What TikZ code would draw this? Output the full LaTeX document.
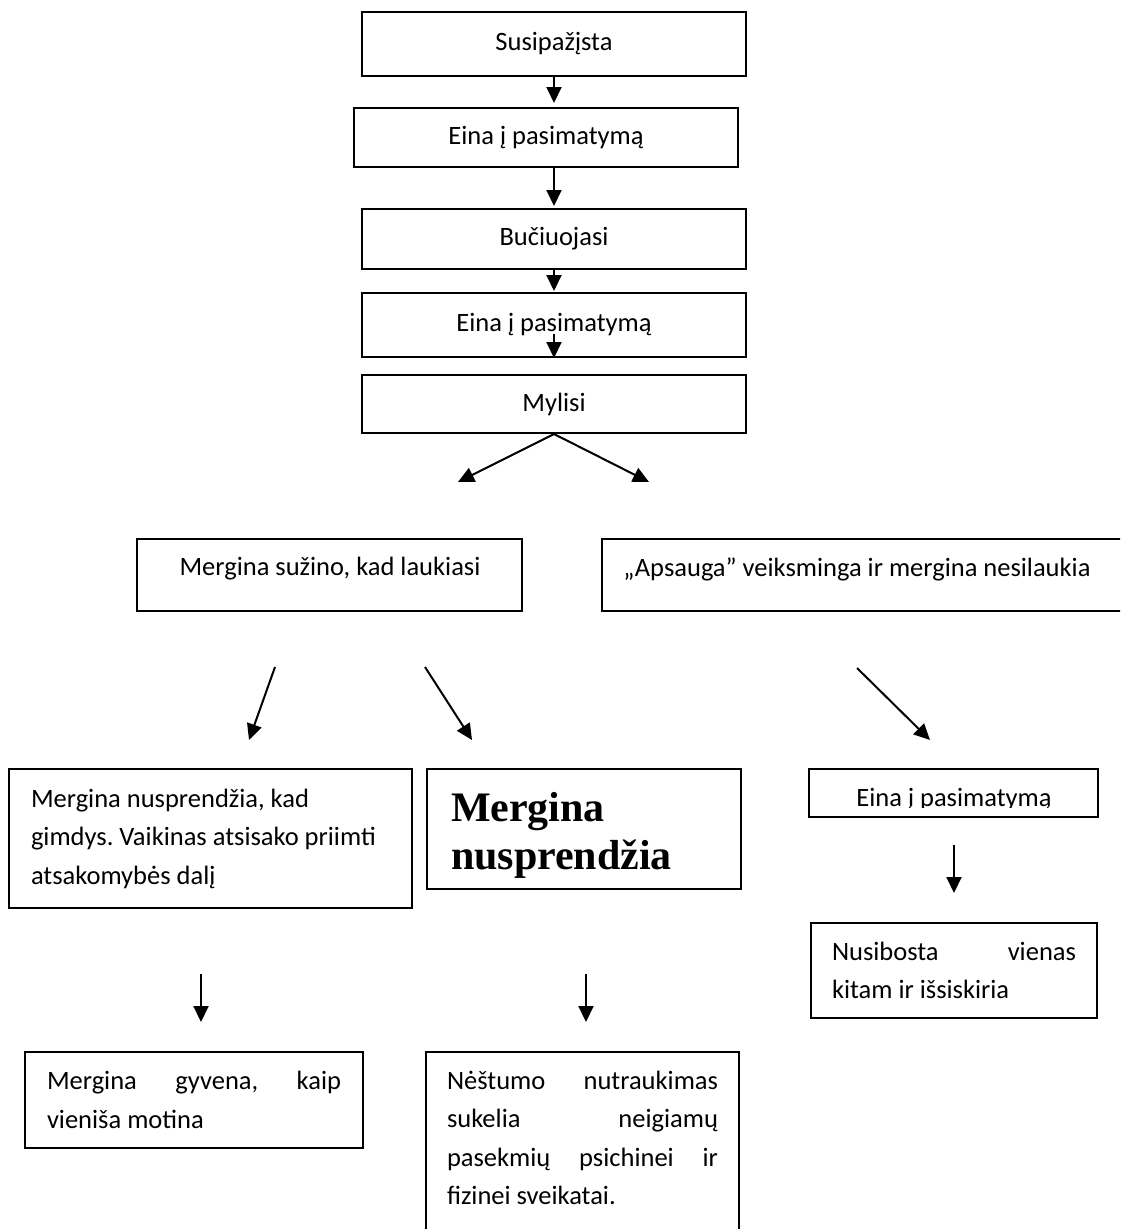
\documentclass[tikz,border=0pt]{standalone}
\usepackage{fontspec}
\setmainfont{Carlito}
\newfontfamily\tnr{Liberation Serif}
\usetikzlibrary{arrows.meta}
\frenchspacing
\tolerance=10000
\hyphenpenalty=10000

\tikzset{
  box/.style={draw, line width=2pt, inner sep=0pt},
  txt/.style={font=\fontsize{26.5}{38.5}\selectfont, inner sep=0pt},
}

\begin{document}
\begin{tikzpicture}[x=1pt,y=1pt,line width=2pt,>={Triangle[width=15pt,length=16pt]}]
\useasboundingbox (0,0) rectangle (1120,-1229);
\clip (0,0) rectangle (1120,-1229);

% upper chain
\node[box,txt,minimum width=384,minimum height=64] (susip) at (554,-44) {Susipažįsta};
\node[box,txt,minimum width=384,minimum height=59] (pasim1) at (546,-137.5) {Eina į pasimatymą};
\node[box,txt,minimum width=384,minimum height=60] (bucz) at (554,-239) {Bučiuojasi};
\node[box,txt,minimum width=384,minimum height=64] (pasim2) at (554,-325) {Eina į pasimatymą};
\node[box,txt,minimum width=384,minimum height=58] (mylisi) at (554,-404) {Mylisi};

\draw[->] (susip.south) -- ([yshift=4]susip.south |- pasim1.north);
\draw[->] (bucz.north |- pasim1.south) -- ([yshift=2]bucz.north);
\draw[->] (bucz.south) -- ([yshift=1]pasim2.north);
\draw[->] ([yshift=24]pasim2.south) -- (pasim2.south);

\coordinate (kaire) at (458,-482);
\coordinate (desine) at (649,-482);
\draw[->] (mylisi.south) -- (kaire);
\draw[->] (mylisi.south) -- (desine);

% two outcomes
\node[box,minimum width=385,minimum height=72] (suzino) at (329.5,-575) {};
\node[txt] (suzinotxt) at (330,-569) {Mergina sužino, kad laukiasi};
\node[box,minimum width=528,minimum height=72] (apsauga) at (866,-575) {};
\node[txt] (apsaugatxt) at (857,-569) {„Apsauga” veiksminga ir mergina nesilaukia};

% lower boxes
\node[box,txt,minimum width=403,minimum height=139,text width=359,align=flush left] (nusp) at (210.5,-838.5)
  {Mergina nusprendžia, kad\\gimdys. Vaikinas atsisako priimti\\atsakomybės dalį};
\node[box,minimum width=314,minimum height=120] (boldbox) at (584,-829) {};
\node[inner sep=0pt,anchor=north west,text width=268,align=flush left,
  font=\tnr\bfseries\fontsize{42}{48}\selectfont] (boldtxt) at (450,-791) {Mergina\\nusprendžia};
\node[box,minimum width=289,minimum height=48] (eina) at (953.5,-793) {};
\begin{scope}
\clip (eina.north west) rectangle ([yshift=11]eina.south east);
\node[txt,anchor=base] (einatxt) at (954,-806) {Eina į pasimatymą};
\end{scope}

\node[box,txt,minimum width=286,minimum height=95,text width=244,align=justify] (nusib) at (954,-970.5)
  {Nusibosta vienas\linebreak kitam ir išsiskiria};
\node[box,txt,minimum width=338,minimum height=96,text width=294,align=justify] (gyvena) at (194,-1100)
  {Mergina gyvena, kaip\linebreak vieniša motina};
\node[box,minimum width=313,minimum height=198] (nestumo) at (582.5,-1151) {};
\node[txt,text width=271,align=justify,anchor=north] (nestumotxt) at (582.5,-1070)
  {Nėštumo nutraukimas\linebreak sukelia neigiamų\linebreak pasekmių psichinei ir\linebreak fizinei sveikatai.};

% loose arrows
\foreach \nm/\xa/\ya/\xb/\yb in {sa/275/667/249/740, sb/425/667/472/740, ab/857/668/930/740,
    na/201/974/201/1022, nb/586/974/586/1022, eb/954/845/954/893}{
  \coordinate (\nm1) at (\xa,-\ya);
  \coordinate (\nm2) at (\xb,-\yb);
  \draw[->] (\nm1) -- (\nm2);
}

\end{tikzpicture}
\end{document}
